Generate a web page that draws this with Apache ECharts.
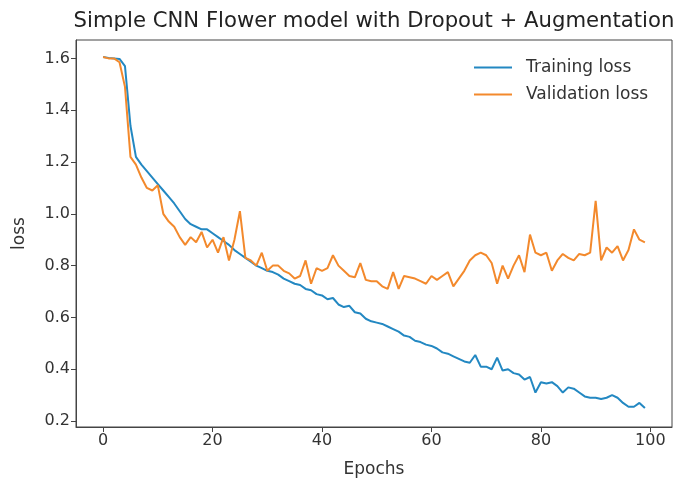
<!DOCTYPE html>
<html>
<head>
<meta charset="utf-8">
<script src="https://cdn.jsdelivr.net/npm/echarts@6/dist/echarts.min.js"></script>
<style>html,body{margin:0;padding:0;background:#fff}#c{width:680px;height:483px}</style>
</head>
<body>
<div id="c"></div>
<script>
const epochs = Array.from({length: 100}, (_, i) => i);
const trainingLoss = [
1.605,1.602,1.600,1.598,1.570,1.340,1.220,1.190,1.165,1.140,
1.115,1.090,1.065,1.040,1.010,0.980,0.960,0.950,0.940,0.940,
0.925,0.910,0.895,0.880,0.860,0.845,0.830,0.815,0.800,0.790,
0.780,0.775,0.765,0.750,0.740,0.730,0.725,0.710,0.705,0.690,
0.685,0.670,0.675,0.650,0.640,0.645,0.620,0.615,0.595,0.585,
0.580,0.575,0.565,0.555,0.545,0.530,0.525,0.510,0.505,0.495,
0.490,0.480,0.465,0.460,0.450,0.440,0.430,0.425,0.455,0.410,
0.410,0.400,0.445,0.395,0.400,0.385,0.380,0.360,0.370,0.310,
0.350,0.345,0.350,0.335,0.310,0.330,0.325,0.310,0.295,0.290,
0.290,0.285,0.290,0.300,0.290,0.270,0.255,0.255,0.270,0.250
];
const validationLoss = [
1.605,1.600,1.600,1.585,1.490,1.220,1.190,1.140,1.100,1.090,
1.110,1.000,0.970,0.950,0.910,0.880,0.910,0.890,0.930,0.870,
0.900,0.850,0.910,0.820,0.900,1.010,0.830,0.820,0.800,0.850,
0.780,0.800,0.800,0.780,0.770,0.750,0.760,0.820,0.730,0.790,
0.780,0.790,0.840,0.800,0.780,0.760,0.755,0.810,0.745,0.740,
0.740,0.720,0.710,0.775,0.710,0.760,0.755,0.750,0.740,0.730,
0.760,0.745,0.760,0.775,0.720,0.750,0.780,0.820,0.840,0.850,
0.840,0.810,0.730,0.800,0.750,0.800,0.840,0.775,0.920,0.850,
0.840,0.850,0.780,0.820,0.845,0.830,0.820,0.845,0.840,0.850,
1.050,0.820,0.870,0.850,0.875,0.820,0.860,0.940,0.900,0.890
];
const xTicks = [0, 20, 40, 60, 80, 100];
const yTicks = [0.2, 0.4, 0.6, 0.8, 1.0, 1.2, 1.4, 1.6];

const font = 'DejaVu Sans';
const chart = echarts.init(document.getElementById('c'), null, {renderer: 'canvas'});
chart.setOption({
  animation: false,
  backgroundColor: '#fff',
  title: {
    text: 'Simple CNN Flower model with Dropout + Augmentation',
    left: 369, top: 6, textAlign: 'center',
    textStyle: {fontFamily: font, fontSize: 21.2, fontWeight: 'normal', color: '#222'}
  },
  legend: {
    orient: 'vertical', left: 469, top: 54,
    icon: 'rect', itemWidth: 38, itemHeight: 2, itemGap: 10,
    textStyle: {fontFamily: font, fontSize: 17, color: '#333', padding: [0, 0, 0, 9]},
    data: ['Training loss', 'Validation loss']
  },
  grid: {left: 76, right: 8, top: 40, bottom: 56, show: true, borderColor: '#444', borderWidth: 1},
  xAxis: {
    type: 'value', min: -4.95, max: 103.95,
    name: 'Epochs', nameLocation: 'middle', nameGap: 34,
    nameTextStyle: {fontFamily: font, fontSize: 17, color: '#333'},
    axisLine: {show: true, onZero: false, lineStyle: {color: '#444'}},
    axisTick: {show: true, length: 5, customValues: xTicks, lineStyle: {color: '#444'}},
    axisLabel: {customValues: xTicks, fontFamily: font, fontSize: 16, color: '#333', margin: 6},
    splitLine: {show: false}
  },
  yAxis: {
    type: 'value', min: 0.177, max: 1.671,
    name: 'loss', nameLocation: 'middle', nameGap: 48,
    nameTextStyle: {fontFamily: font, fontSize: 17, color: '#333'},
    axisLine: {show: true, onZero: false, lineStyle: {color: '#444'}},
    axisTick: {show: true, length: 5, customValues: yTicks, lineStyle: {color: '#444'}},
    axisLabel: {customValues: yTicks, fontFamily: font, fontSize: 16, color: '#333', margin: 6,
      formatter: v => v.toFixed(1)},
    splitLine: {show: false}
  },
  series: [
    {name: 'Training loss', type: 'line', symbol: 'none', color: '#2388c2',
     lineStyle: {width: 2, color: '#2388c2'},
     data: epochs.map((e, i) => [e, trainingLoss[i]])},
    {name: 'Validation loss', type: 'line', symbol: 'none', color: '#f3892c',
     lineStyle: {width: 2, color: '#f3892c'},
     data: epochs.map((e, i) => [e, validationLoss[i]])}
  ]
});
</script>
</body>
</html>
